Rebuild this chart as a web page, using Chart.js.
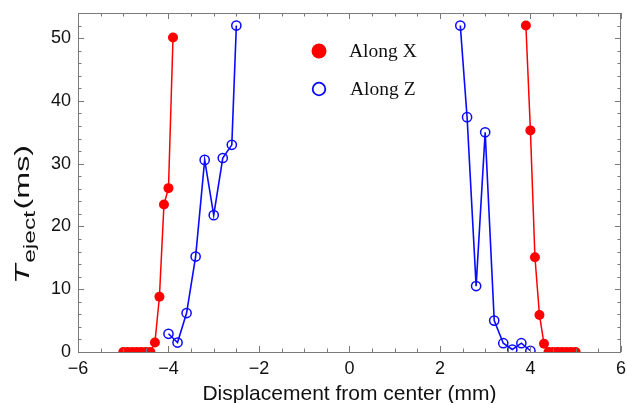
<!DOCTYPE html>
<html>
<head>
<meta charset="utf-8">
<script src="https://cdn.jsdelivr.net/npm/chart.js@4"></script>
<style>
  body { margin: 0; background: #fff; }
  canvas { display: block; }
</style>
</head>
<body>
<canvas id="ejectChart" width="627" height="403"></canvas>
<script>
// data (displacement in mm, T_eject in ms)
const xLeftX  = [-5.0, -4.9, -4.8, -4.7, -4.6, -4.5, -4.4, -4.3, -4.2, -4.1, -4.0, -3.9];
const yLeftX  = [0, 0, 0, 0, 0, 0, 0, 1.5, 8.8, 23.5, 26.1, 50.1];
const xRightX = [3.9, 4.0, 4.1, 4.2, 4.3, 4.4, 4.5, 4.6, 4.7, 4.8, 4.9, 5.0];
const yRightX = [52.0, 35.3, 15.1, 5.9, 1.3, 0, 0, 0, 0, 0, 0, 0];

const xLeftZ  = [-4.0, -3.8, -3.6, -3.4, -3.2, -3.0, -2.8, -2.6, -2.5];
const yLeftZ  = [2.9, 1.5, 6.2, 15.2, 30.6, 21.8, 30.9, 33.0, 52.0];
const xRightZ = [2.45, 2.6, 2.8, 3.0, 3.2, 3.4, 3.6, 3.8, 4.0];
const yRightZ = [52.0, 37.4, 10.5, 35.0, 5.0, 1.4, 0.4, 1.4, 0.2];

const xTicks = [-6, -4, -2, 0, 2, 4, 6];
const yTicks = [0, 10, 20, 30, 40, 50];

const seriesNames = ["Along X", "Along Z"];

function pts(xs, ys) {
    return xs.map((x, i) => ({ x: x, y: ys[i] }));
}

const sans = '"Liberation Sans", Arial, sans-serif';
const red = "#ff0000";
const blue = "#0a0aff";

function xSet(data) {
    return {
        data: data, showLine: true, clip: 0,
        borderColor: red, borderWidth: 1.5,
        pointRadius: 5, pointBackgroundColor: red, pointBorderColor: red, pointBorderWidth: 0
    };
}
function zSet(data) {
    return {
        data: data, showLine: true, clip: 0,
        borderColor: blue, borderWidth: 1.6,
        pointRadius: 4.6, pointBackgroundColor: "rgba(0,0,0,0)", pointBorderColor: blue, pointBorderWidth: 1.5
    };
}

// frame + inward major/minor ticks on all four sides
const frameTicks = {
    id: "frameTicks",
    afterDraw(chart) {
        const ctx = chart.ctx, a = chart.chartArea;
        const xs = chart.scales.x, ys = chart.scales.y;
        ctx.save();
        ctx.strokeStyle = "#7a7a7a";
        ctx.lineWidth = 1;
        ctx.strokeRect(Math.round(a.left) + 0.5, Math.round(a.top) + 0.5,
                       Math.round(a.right - a.left) - 1, Math.round(a.bottom - a.top));
        ctx.beginPath();
        for (let v = xs.min; v <= xs.max + 1e-9; v += 0.5) {
            const len = Math.abs(v % 2) < 1e-9 ? 6 : 3.5;
            const px = Math.round(xs.getPixelForValue(v)) + 0.5;
            ctx.moveTo(px, a.bottom); ctx.lineTo(px, a.bottom - len);
            ctx.moveTo(px, a.top); ctx.lineTo(px, a.top + len);
        }
        for (let v = 0; v <= ys.max + 1e-9; v += 2) {
            const len = v % 10 === 0 ? 6 : 3.5;
            const py = Math.round(ys.getPixelForValue(v)) + 0.5;
            ctx.moveTo(a.left, py); ctx.lineTo(a.left + len, py);
            ctx.moveTo(a.right, py); ctx.lineTo(a.right - len, py);
        }
        ctx.stroke();
        ctx.restore();
    }
};

// in-plot legend
const insideLegend = {
    id: "insideLegend",
    afterDraw(chart) {
        const ctx = chart.ctx;
        ctx.save();
        ctx.fillStyle = red;
        ctx.beginPath(); ctx.arc(319, 51, 7.5, 0, Math.PI * 2); ctx.fill();
        ctx.strokeStyle = blue; ctx.lineWidth = 1.8;
        ctx.beginPath(); ctx.arc(319, 89, 6.3, 0, Math.PI * 2); ctx.stroke();
        ctx.fillStyle = "#111";
        ctx.font = '19.5px "Liberation Serif", "Times New Roman", serif';
        ctx.textBaseline = "alphabetic";
        ctx.fillText(seriesNames[0], 349, 57);
        ctx.fillText(seriesNames[1], 350, 95);
        ctx.restore();
    }
};

// y axis title: italic T with subscript "eject", then (ms)
const yTitle = {
    id: "yTitle",
    afterDraw(chart) {
        const ctx = chart.ctx;
        ctx.save();
        ctx.translate(29, 284);
        ctx.rotate(-Math.PI / 2);
        const fT = "italic 21px " + sans, fSub = "16px " + sans, fMain = "21px " + sans;
        ctx.font = fT; const wT = ctx.measureText("T").width;
        ctx.font = fSub; const wS = ctx.measureText("eject").width;
        ctx.font = fMain; const wM = ctx.measureText("(ms)").width;
        const k = 139 / (wT + wS + wM + 2);
        ctx.scale(k, 1);
        ctx.fillStyle = "#111";
        ctx.textBaseline = "alphabetic";
        ctx.font = fT; ctx.fillText("T", 0, 0);
        ctx.font = fSub; ctx.fillText("eject", wT + 1, 6);
        ctx.font = fMain; ctx.fillText("(ms)", wT + wS + 2, 0);
        ctx.restore();
    }
};

new Chart(document.getElementById("ejectChart").getContext("2d"), {
    type: "scatter",
    data: {
        datasets: [
            xSet(pts(xLeftX, yLeftX)),
            xSet(pts(xRightX, yRightX)),
            zSet(pts(xLeftZ, yLeftZ)),
            zSet(pts(xRightZ, yRightZ))
        ]
    },
    options: {
        responsive: false,
        animation: false,
        layout: { padding: { top: 13, right: 1, left: 0, bottom: 0 } },
        plugins: { legend: { display: false }, tooltip: { enabled: false } },
        scales: {
            x: {
                type: "linear", min: -6, max: 6,
                afterBuildTicks: s => { s.ticks = xTicks.map(v => ({ value: v })); },
                afterFit: s => { s.height = 51; s.paddingLeft = 0; s.paddingRight = 0; },
                grid: { display: false, drawTicks: false },
                border: { display: false },
                ticks: {
                    padding: 6, autoSkip: false, maxRotation: 0, color: "#111",
                    font: { family: sans, size: 18 },
                    callback: v => String(v).replace("-", "\u2212")
                },
                title: {
                    display: true, text: "Displacement from center (mm)", color: "#111",
                    font: { family: sans, size: 21 }, padding: { top: 0, bottom: -4 }
                }
            },
            y: {
                type: "linear", min: 0, max: 54,
                afterBuildTicks: s => { s.ticks = yTicks.map(v => ({ value: v })); },
                afterFit: s => { s.width = 78; s.paddingTop = 0; s.paddingBottom = 0; },
                grid: { display: false, drawTicks: false },
                border: { display: false },
                ticks: { padding: 7, color: "#111", font: { family: sans, size: 18 } }
            }
        }
    },
    plugins: [frameTicks, insideLegend, yTitle]
});
</script>
</body>
</html>
